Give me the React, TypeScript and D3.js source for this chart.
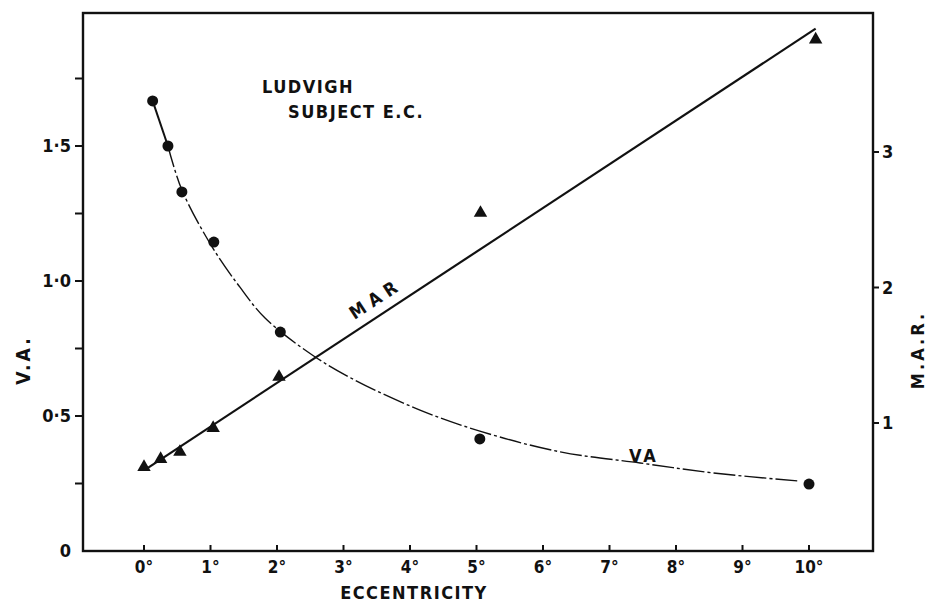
import React from "react";
import * as d3 from "d3";

// Visual acuity (V.A.) measurements, left axis
const vaEcc = [0.13, 0.36, 0.57, 1.05, 2.05, 5.05, 10.0];
const vaVals = [1.667, 1.5, 1.33, 1.144, 0.811, 0.415, 0.248];

// Smoothed V.A. curve drawn through the points
const vaCurveEcc = [0.36, 0.57, 1.04, 1.44, 1.82, 2.53, 3.17, 4.15, 5.05, 6.26, 7.46, 8.56, 9.86];
const vaCurveVals = [1.5, 1.337, 1.12, 0.978, 0.863, 0.726, 0.633, 0.522, 0.444, 0.367, 0.326, 0.289, 0.259];

// Minimum angle of resolution (M.A.R.) measurements, right axis
const marEcc = [0, 0.25, 0.54, 1.04, 2.03, 5.06, 10.1];
const marVals = [0.675, 0.734, 0.786, 0.963, 1.34, 2.55, 3.83];

// Fitted straight line for M.A.R.
const marFitEcc = [0.03, 10.1];
const marFitVals = [0.66, 3.91];

// Axis ticks
const xTicks = [0, 1, 2, 3, 4, 5, 6, 7, 8, 9, 10];
const vaTicks = [0, 0.25, 0.5, 0.75, 1.0, 1.25, 1.5, 1.75];
const vaTickLabels: Record<string, string> = { "0": "0", "0.5": "0·5", "1": "1·0", "1.5": "1·5" };
const marTicks = [1, 2, 3];

const FONT = "'DejaVu Sans Condensed', 'DejaVu Sans', sans-serif";

export default function App() {
  const frame = { left: 83, right: 873, top: 13, bottom: 551 };
  const x = d3.scaleLinear().domain([0, 10]).range([144, 809]);
  const yVA = d3.scaleLinear().domain([0, 1]).range([551, 281]);
  const yMAR = d3.scaleLinear().domain([1, 3]).range([423, 152]);

  const vaSolid = d3.line<number>()
    .x((_, i) => x(vaEcc[i]))
    .y((_, i) => yVA(vaVals[i]))(vaVals.slice(0, 2));

  const vaCurve = d3.line<number>()
    .x((_, i) => x(vaCurveEcc[i]))
    .y((d) => yVA(d))
    .curve(d3.curveCatmullRom.alpha(0.5))(vaCurveVals);

  const marLine = d3.line<number>()
    .x((_, i) => x(marFitEcc[i]))
    .y((d) => yMAR(d))(marFitVals);

  const tri = d3.symbol().type(d3.symbolTriangle).size(78)();

  // MAR label placed along the fitted line
  const labelEcc = 3.62;
  const t = (labelEcc - marFitEcc[0]) / (marFitEcc[1] - marFitEcc[0]);
  const labelMar = marFitVals[0] + t * (marFitVals[1] - marFitVals[0]);
  const angle =
    (Math.atan2(
      yMAR(marFitVals[1]) - yMAR(marFitVals[0]),
      x(marFitEcc[1]) - x(marFitEcc[0])
    ) * 180) / Math.PI;

  return (
    <svg
      width={934}
      height={603}
      style={{ position: "absolute", left: 0, top: 0, background: "#fff" }}
      fontFamily={FONT}
      fontWeight="bold"
    >
      <rect x={0} y={0} width={934} height={603} fill="#fff" />

      {/* frame */}
      <rect
        x={frame.left}
        y={frame.top}
        width={frame.right - frame.left}
        height={frame.bottom - frame.top}
        fill="none"
        stroke="#111"
        strokeWidth={2.4}
      />

      {/* left V.A. axis ticks */}
      {vaTicks.map((v) =>
        v === 0 ? null : (
          <line key={"vt" + v} x1={frame.left - 8} x2={frame.left} y1={yVA(v)} y2={yVA(v)} stroke="#111" strokeWidth={2} />
        )
      )}
      {vaTicks
        .filter((v) => vaTickLabels[String(v)] !== undefined)
        .map((v) => (
          <text key={"vl" + v} x={frame.left - 12} y={yVA(v)} dy="0.36em" textAnchor="end" fontSize={18} fill="#111">
            {vaTickLabels[String(v)]}
          </text>
        ))}

      {/* right M.A.R. axis ticks */}
      {marTicks.map((m) => (
        <g key={"mt" + m}>
          <line x1={frame.right} x2={frame.right + 6} y1={yMAR(m)} y2={yMAR(m)} stroke="#111" strokeWidth={2} />
          <text x={frame.right + 9} y={yMAR(m)} dy="0.36em" fontSize={18} fill="#111">
            {m}
          </text>
        </g>
      ))}

      {/* bottom eccentricity ticks */}
      {xTicks.map((e) => (
        <g key={"xt" + e}>
          <line x1={x(e)} x2={x(e)} y1={frame.bottom} y2={frame.bottom - 6} stroke="#111" strokeWidth={2} />
          <text x={x(e)} y={frame.bottom + 22} textAnchor="middle" fontSize={17} fill="#111">
            {e + "°"}
          </text>
        </g>
      ))}

      {/* axis titles */}
      <text x={414} y={599} textAnchor="middle" fontSize={18} letterSpacing={1.5} fill="#111">
        ECCENTRICITY
      </text>
      <text
        transform={`translate(30,360) rotate(-90)`}
        textAnchor="middle"
        fontSize={19}
        letterSpacing={3}
        fill="#111"
      >
        V.A.
      </text>
      <text
        transform={`translate(924,350) rotate(-90)`}
        textAnchor="middle"
        fontSize={18}
        letterSpacing={3}
        fill="#111"
      >
        M.A.R.
      </text>

      {/* title */}
      <text x={262} y={93} fontSize={18} letterSpacing={1.5} fill="#111">
        LUDVIGH
      </text>
      <text x={288} y={118} fontSize={18} letterSpacing={1.5} fill="#111">
        SUBJECT  E.C.
      </text>

      {/* V.A. curve */}
      <path d={vaSolid ?? ""} fill="none" stroke="#111" strokeWidth={2} />
      <path d={vaCurve ?? ""} fill="none" stroke="#111" strokeWidth={1.4} strokeDasharray="22 3 3 3" />

      {/* M.A.R. fitted line */}
      <path d={marLine ?? ""} fill="none" stroke="#111" strokeWidth={2.2} />

      {/* V.A. points */}
      {vaVals.map((v, i) => (
        <circle key={"vp" + i} cx={x(vaEcc[i])} cy={yVA(v)} r={5.5} fill="#111" />
      ))}

      {/* M.A.R. points */}
      {marVals.map((m, i) => (
        <path key={"mp" + i} d={tri ?? ""} transform={`translate(${x(marEcc[i])},${yMAR(m)})`} fill="#111" />
      ))}

      {/* series labels */}
      <text
        transform={`translate(${x(labelEcc)},${yMAR(labelMar)}) rotate(${angle}) translate(0,-10)`}
        textAnchor="middle"
        fontSize={18}
        letterSpacing={6}
        fill="#111"
      >
        MAR
      </text>
      <text x={644} y={462} textAnchor="middle" fontSize={18} letterSpacing={3} fill="#111">
        VA
      </text>
    </svg>
  );
}
